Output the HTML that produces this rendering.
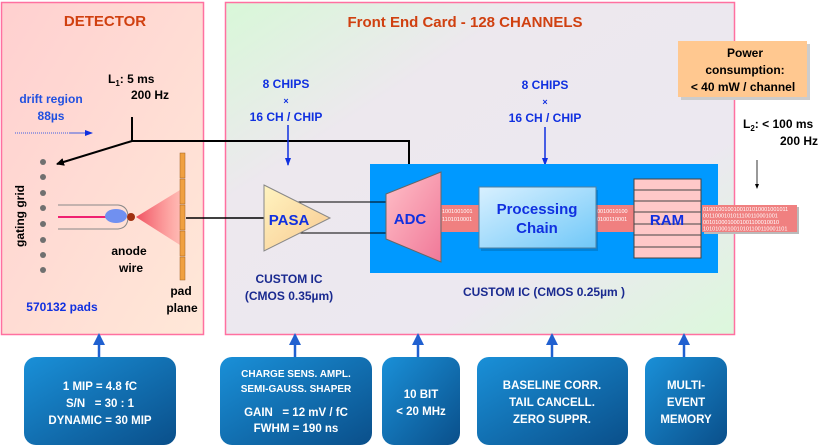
<!DOCTYPE html>
<html><head><meta charset="utf-8"><style>
html,body{margin:0;padding:0;background:#fff;width:830px;height:448px;overflow:hidden}
svg{display:block;font-family:"Liberation Sans",sans-serif;font-weight:bold}
</style></head><body>
<svg width="830" height="448" viewBox="0 0 830 448" xmlns="http://www.w3.org/2000/svg">
<defs>
<linearGradient id="det" x1="0" y1="0" x2="1" y2="1"><stop offset="0" stop-color="#ffd0d0"/><stop offset="1" stop-color="#ffe8d8"/></linearGradient>
<linearGradient id="fe" x1="0" y1="0" x2="1" y2="1"><stop offset="0" stop-color="#d8f8d8"/><stop offset="0.3" stop-color="#ede8ee"/><stop offset="0.7" stop-color="#ece8f0"/><stop offset="1" stop-color="#dcf8dc"/></linearGradient>
<linearGradient id="pasa" x1="0" y1="0" x2="1" y2="1"><stop offset="0" stop-color="#fff4c0"/><stop offset="1" stop-color="#f8c890"/></linearGradient>
<linearGradient id="adc" x1="0" y1="0" x2="1" y2="1"><stop offset="0" stop-color="#ffc0c8"/><stop offset="1" stop-color="#f07898"/></linearGradient>
<linearGradient id="pc" x1="0" y1="0" x2="1" y2="1"><stop offset="0" stop-color="#d8f0ff"/><stop offset="1" stop-color="#70c8f8"/></linearGradient>
<linearGradient id="bb" x1="0" y1="0" x2="1" y2="1"><stop offset="0" stop-color="#1a90d8"/><stop offset="1" stop-color="#0a4f8a"/></linearGradient>
<linearGradient id="cone" x1="0" y1="0" x2="1" y2="0"><stop offset="0" stop-color="#f05060"/><stop offset="1" stop-color="#ff9090" stop-opacity="0.5"/></linearGradient>
<marker id="ab" markerWidth="8" markerHeight="8" refX="7" refY="4" orient="auto" markerUnits="userSpaceOnUse"><path d="M0,0 L8,4 L0,8 z" fill="#000"/></marker>
<marker id="abl" markerWidth="8" markerHeight="8" refX="7" refY="4" orient="auto" markerUnits="userSpaceOnUse"><path d="M0,1 L8,4 L0,7 z" fill="#1030e0"/></marker>
<marker id="abig" markerWidth="12" markerHeight="12" refX="10" refY="6" orient="auto" markerUnits="userSpaceOnUse"><path d="M0,0 L12,6 L0,12 z" fill="#2060d0"/></marker>
</defs>
<!-- Detector box -->
<rect x="1.5" y="2.5" width="202" height="332" fill="url(#det)" stroke="#ff70a0" stroke-width="1.5"/>
<text x="105" y="26" text-anchor="middle" font-size="15" fill="#d04010">DETECTOR</text>
<!-- FE box -->
<rect x="225.5" y="2.5" width="509" height="332" fill="url(#fe)" stroke="#ff70a0" stroke-width="1.5"/>
<text x="465" y="27" text-anchor="middle" font-size="15" fill="#d04010">Front End Card - 128 CHANNELS</text>

<!-- detector contents -->
<text x="108" y="83" font-size="12" fill="#000">L<tspan font-size="8" dy="3">1</tspan><tspan dy="-3">: 5 ms</tspan></text>
<text x="131" y="99" font-size="12" fill="#000">200 Hz</text>
<text x="51" y="103" text-anchor="middle" font-size="12" fill="#2050e0" font-weight="normal" style="font-weight:600">drift region</text>
<text x="51" y="120" text-anchor="middle" font-size="12" fill="#2050e0">88µs</text>
<line x1="15" y1="133" x2="70" y2="133" stroke="#4060e0" stroke-dasharray="1,1"/>
<line x1="70" y1="133" x2="92" y2="133" stroke="#4060e0" marker-end="url(#abl)"/>
<text transform="translate(24,216) rotate(-90)" text-anchor="middle" font-size="12" fill="#000">gating grid</text>
<g fill="#707070"><circle cx="43" cy="162" r="3"/><circle cx="43" cy="177" r="3"/><circle cx="43" cy="193" r="3"/><circle cx="43" cy="208" r="3"/><circle cx="43" cy="224" r="3"/><circle cx="43" cy="240" r="3"/><circle cx="43" cy="255" r="3"/><circle cx="43" cy="270" r="3"/></g>
<polygon points="136,217 180,190 180,245" fill="url(#cone)"/>
<line x1="58" y1="217" x2="108" y2="217" stroke="#f02070" stroke-width="2"/>
<path d="M58,205 L118,205 Q128,206 128,217 Q128,228 118,229 L58,229" fill="none" stroke="#888" stroke-width="1"/>
<ellipse cx="116" cy="216" rx="11" ry="7" fill="#7090f0"/>
<circle cx="131" cy="217" r="4" fill="#a03010"/>
<text x="129" y="255" text-anchor="middle" font-size="12" fill="#000">anode</text>
<text x="131" y="272" text-anchor="middle" font-size="12" fill="#000">wire</text>
<g fill="#f0a040" stroke="#a06020" stroke-width="0.5"><rect x="180" y="153" width="5" height="25"/><rect x="180" y="179" width="5" height="25"/><rect x="180" y="205" width="5" height="25"/><rect x="180" y="231" width="5" height="25"/><rect x="180" y="257" width="5" height="23"/></g>
<text x="181" y="295" text-anchor="middle" font-size="12" fill="#000">pad</text>
<text x="182" y="312" text-anchor="middle" font-size="12" fill="#000">plane</text>
<text x="62" y="311" text-anchor="middle" font-size="12" fill="#1030e0">570132 pads</text>
<!-- L1 lines -->
<polyline points="132,117 132,141 409,141 409,177" fill="none" stroke="#000" stroke-width="2" marker-end="url(#ab)"/>
<line x1="132" y1="141" x2="57" y2="164" stroke="#000" stroke-width="2" marker-end="url(#ab)"/>
<line x1="186" y1="218" x2="264" y2="218" stroke="#000" stroke-width="1.5"/>

<!-- chips labels -->
<g font-size="12" fill="#1030e0" text-anchor="middle">
<text x="286" y="88">8 CHIPS</text><text x="286" y="104" font-size="9">×</text><text x="286" y="121">16 CH / CHIP</text>
<text x="545" y="89">8 CHIPS</text><text x="545" y="105" font-size="9">×</text><text x="545" y="122">16 CH / CHIP</text>
</g>
<line x1="288" y1="125" x2="288" y2="165" stroke="#1030e0" stroke-width="1.5" marker-end="url(#abl)"/>
<line x1="545" y1="127" x2="545" y2="165" stroke="#1030e0" stroke-width="1.5" marker-end="url(#abl)"/>

<!-- IC blue box -->
<rect x="370" y="164" width="348" height="109" fill="#0099ff"/>
<!-- bit bands -->
<rect x="441" y="205" width="40" height="27" fill="#f08080"/>
<rect x="596" y="205" width="40" height="27" fill="#f08080"/>
<g font-size="5.5" fill="#fff" font-weight="normal" font-family="Liberation Sans">
<text x="442" y="213">1001001001</text><text x="442" y="221">1101010001</text>
<text x="597" y="213">0010010100</text><text x="597" y="221">0100110001</text>
</g>
<!-- PASA -->
<line x1="298" y1="202" x2="387" y2="202" stroke="#000" stroke-width="1"/>
<line x1="298" y1="233" x2="387" y2="233" stroke="#000" stroke-width="1"/>
<polygon points="264,185 330,218 264,251" fill="url(#pasa)" stroke="#888" stroke-width="1"/>
<text x="289" y="225" text-anchor="middle" font-size="15" fill="#1030e0">PASA</text>
<text x="289" y="283" text-anchor="middle" font-size="12" fill="#1a2a90">CUSTOM IC</text>
<text x="289" y="300" text-anchor="middle" font-size="12" fill="#1a2a90">(CMOS 0.35µm)</text>
<!-- ADC -->
<polygon points="386,194 441,172 441,262 386,239" fill="url(#adc)" stroke="#666" stroke-width="1"/>
<text x="410" y="224" text-anchor="middle" font-size="15" fill="#1030e0">ADC</text>
<!-- Processing chain -->
<rect x="481" y="190" width="117" height="61" fill="#0060a0" opacity="0.4"/>
<rect x="479" y="187" width="117" height="61" fill="url(#pc)" stroke="#5080a0" stroke-width="1"/>
<text x="537" y="214" text-anchor="middle" font-size="15" fill="#1030e0">Processing</text>
<text x="537" y="233" text-anchor="middle" font-size="15" fill="#1030e0">Chain</text>
<!-- RAM -->
<rect x="634" y="179" width="67" height="79" fill="#ffc8c8" stroke="#444" stroke-width="1"/>
<g stroke="#444" stroke-width="1"><line x1="634" y1="190" x2="701" y2="190"/><line x1="634" y1="201" x2="701" y2="201"/><line x1="634" y1="212" x2="701" y2="212"/><line x1="634" y1="224" x2="701" y2="224"/><line x1="634" y1="235" x2="701" y2="235"/><line x1="634" y1="247" x2="701" y2="247"/></g>
<text x="667" y="225" text-anchor="middle" font-size="15" fill="#1030e0">RAM</text>
<!-- output bits -->
<rect x="704" y="207" width="95" height="27" fill="#bbb"/>
<rect x="702" y="205" width="95" height="27" fill="#f08080"/>
<g font-size="5.5" fill="#fff" font-weight="normal">
<text x="703" y="211">0100100100100101010001001011</text><text x="703" y="217.5">0011000101011100110001001</text><text x="703" y="224">0010100010001001100010010</text><text x="703" y="230.5">1010100010010101100110001101</text>
</g>
<text x="544" y="296" text-anchor="middle" font-size="12" fill="#1a2a90">CUSTOM IC (CMOS 0.25µm )</text>

<!-- Power box -->
<rect x="681" y="44" width="129" height="56" fill="#ccc"/>
<rect x="678" y="41" width="129" height="56" fill="#ffc890"/>
<g font-size="12" fill="#000" text-anchor="middle" font-weight="normal" style="font-weight:600">
<text x="745" y="57">Power</text><text x="745" y="74">consumption:</text><text x="743" y="91">&lt; 40 mW / channel</text>
</g>
<text x="743" y="128" font-size="12" fill="#000">L<tspan font-size="8" dy="3">2</tspan><tspan dy="-3">: &lt; 100 ms</tspan></text>
<text x="780" y="145" font-size="12" fill="#000">200 Hz</text>
<line x1="757" y1="160" x2="757" y2="188" stroke="#000" stroke-width="0.8"/>
<path d="M755,184 L757,189 L759,184z" fill="#000"/>

<!-- bottom arrows -->
<g stroke="#2060d0" stroke-width="2.5">
<line x1="99" y1="358" x2="99" y2="335" marker-end="url(#abig)"/>
<line x1="295" y1="358" x2="295" y2="335" marker-end="url(#abig)"/>
<line x1="418" y1="358" x2="418" y2="335" marker-end="url(#abig)"/>
<line x1="552" y1="358" x2="552" y2="335" marker-end="url(#abig)"/>
<line x1="684" y1="358" x2="684" y2="335" marker-end="url(#abig)"/>
</g>
<!-- bottom boxes -->
<g fill="url(#bb)">
<rect x="24" y="357" width="152" height="88" rx="12"/>
<rect x="220" y="357" width="152" height="88" rx="12"/>
<rect x="382" y="357" width="78" height="88" rx="12"/>
<rect x="477" y="357" width="151" height="88" rx="12"/>
<rect x="645" y="357" width="82" height="88" rx="12"/>
</g>
<g fill="#fff" text-anchor="middle" font-size="11.5">
<text x="100" y="390">1 MIP = 4.8 fC</text>
<text x="100" y="407">S/N &#160;&#160;= 30 : 1</text>
<text x="100" y="424">DYNAMIC = 30 MIP</text>
<text x="296" y="377" font-size="10">CHARGE SENS. AMPL.</text>
<text x="296" y="392" font-size="10">SEMI-GAUSS. SHAPER</text>
<text x="296" y="416">GAIN &#160;&#160;= 12 mV / fC</text>
<text x="296" y="432">FWHM = 190 ns</text>
<text x="421" y="398">10 BIT</text>
<text x="421" y="415">&lt; 20 MHz</text>
<text x="552" y="389">BASELINE CORR.</text>
<text x="552" y="406">TAIL CANCELL.</text>
<text x="552" y="423">ZERO SUPPR.</text>
<text x="686" y="389">MULTI-</text>
<text x="686" y="406">EVENT</text>
<text x="686" y="423">MEMORY</text>
</g>
</svg>
</body></html>
